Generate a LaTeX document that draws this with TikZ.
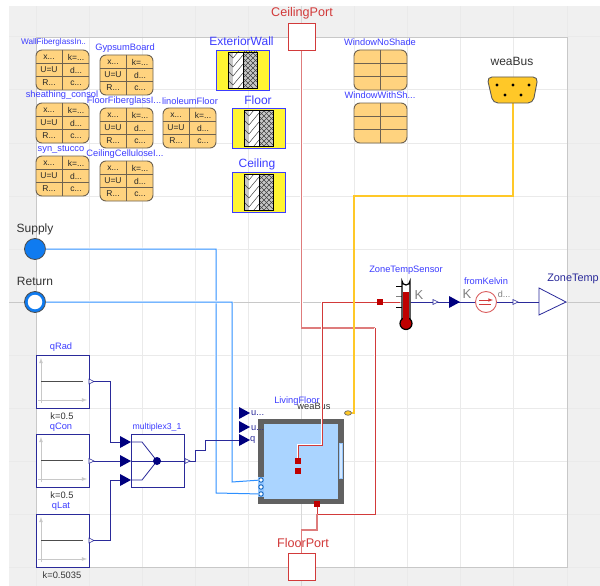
\documentclass[tikz,border=0pt]{standalone}
\usepackage{fontspec}
\setmainfont{Liberation Sans}
\usetikzlibrary{shapes.geometric}
\definecolor{canvasgray}{HTML}{F0F0F0}
\definecolor{gridgray}{HTML}{EAEAEA}
\definecolor{axisgray}{HTML}{C8C8C8}
\definecolor{labelblue}{HTML}{3C3CFF}
\definecolor{navyline}{HTML}{2A2A9A}
\definecolor{navyfill}{HTML}{00007F}
\definecolor{heatred}{HTML}{D23A3A}
\definecolor{paleheat}{HTML}{DE7C7C}
\definecolor{darkheat}{HTML}{BF0000}
\definecolor{fluidblue}{HTML}{2E90FF}
\definecolor{fluidfill}{HTML}{0F7BF0}
\definecolor{busyellow}{HTML}{FFC828}
\definecolor{matfill}{HTML}{FFD37F}
\definecolor{matline}{HTML}{6E6250}
\definecolor{roomblue}{HTML}{AAD4FF}
\tikzset{
	gridline/.style={gridgray,line width=1pt},
	namelabel/.style={labelblue,inner sep=0pt,font=\fontsize{9.3}{10}\selectfont},
	biglabel/.style={labelblue,inner sep=0pt,font=\fontsize{12}{13}\selectfont},
	portlabel/.style={heatred,inner sep=0pt,font=\fontsize{12.6}{13}\selectfont},
	darklabel/.style={black!80,inner sep=0pt,font=\fontsize{12}{13}\selectfont},
	paramlabel/.style={black!80,inner sep=0pt,font=\fontsize{9.3}{10}\selectfont},
	celltext/.style={black!85,inner sep=0pt,font=\fontsize{8.5}{9}\selectfont},
	graytext/.style={black!50,inner sep=0pt,font=\fontsize{13}{14}\selectfont},
	inlabel/.style={anchor=west,navyline,inner sep=0pt,font=\fontsize{9.3}{10}\selectfont},
	matbox/.style={draw=matline,fill=matfill,line width=0.9pt,rounded corners=6pt,minimum width=53pt,minimum height=40pt,inner sep=0pt},
	wallbox/.style={draw=labelblue,fill=yellow!80,line width=0.9pt,minimum width=53pt,minimum height=40pt,inner sep=0pt},
	blockbox/.style={draw=navyline,fill=white,line width=0.9pt,minimum width=53pt,minimum height=53pt,inner sep=0pt},
	portbox/.style={draw=heatred,fill=white,line width=0.9pt,minimum width=27pt,minimum height=27pt,inner sep=0pt},
	heatsq/.style={fill=darkheat,minimum size=6pt,inner sep=0pt},
	fluidport/.style={circle,draw=fluidfill!80!black,fill=white,line width=0.9pt,minimum size=4.5pt,inner sep=0pt},
	fluidbig/.style={circle,draw=black!70,fill=fluidfill,line width=0.8pt,minimum size=21pt,inner sep=0pt},
	halo/.style={preaction={draw,white,line width=2.6pt}},
	heatwire/.style={halo,heatred,line width=1pt},
	palewire/.style={halo,paleheat,line width=1.2pt},
	fluidwire/.style={halo,fluidblue,line width=1pt},
	buswire/.style={halo,busyellow,line width=1.2pt},
	sigwire/.style={navyline,line width=0.8pt}
}
% one material record
\newcommand{\matrec}[3]{
	\begin{scope}[shift={(#2,#3)}]
		\draw (26.5,20) node [matbox] (#1) {};
		\draw [matline,line width=0.9pt] (#1.north) -- (#1.south);
		\draw [matline,line width=0.9pt] (0,13.3) -- (53,13.3) (0,26.6) -- (53,26.6);
		\draw (13,7) node [celltext] (#1a) {x...};
		\draw (40,7) node [celltext] (#1b) {k=...};
		\draw (13,20) node [celltext] (#1c) {U=U};
		\draw (40,20) node [celltext] (#1d) {d...};
		\draw (13,33) node [celltext] (#1e) {R...};
		\draw (40,33) node [celltext] (#1f) {c...};
	\end{scope}
}
% one window record
\newcommand{\winrec}[3]{
	\begin{scope}[shift={(#2,#3)}]
		\draw (26.5,20) node [matbox] (#1) {};
		\draw [matline,line width=0.9pt] (#1.north) -- (#1.south);
		\draw [matline,line width=0.9pt] (0,13.3) -- (53,13.3) (0,26.6) -- (53,26.6);
	\end{scope}
}
% one wall section
\newcommand{\wallrec}[3]{
	\begin{scope}[shift={(#2,#3)}]
		\draw (26.5,20) node [wallbox] (#1) {};
		\fill [black!22] (12,2) rectangle (17,38);
		\fill [white] (17,2) rectangle (27,38);
		\fill [black!22] (27,2) rectangle (41,38);
		\begin{scope}
			\clip (12,2) rectangle (27,38);
			\foreach \y in {-6,3,...,39} {
				\draw [black!75,line width=0.5pt] (12,\y) -- (17,\y+5) -- (27,\y-7);
			}
		\end{scope}
		\begin{scope}
			\clip (27,2) rectangle (41,38);
			\foreach \y in {-12,-7,...,43} {
				\draw [black!75,line width=0.45pt] (27,\y) -- (41,\y+14);
				\draw [black!75,line width=0.45pt] (27,\y) -- (41,\y-14);
			}
		\end{scope}
		\draw [black,line width=0.9pt] (12,2) rectangle (41,38);
		\draw [black,line width=0.9pt] (27,2) -- (27,38);
	\end{scope}
}
% one constant source
\newcommand{\constrec}[3]{
	\begin{scope}[shift={(#2,#3)}]
		\draw (26.5,26.5) node [blockbox] (#1) {};
		\draw [axisgray,line width=0.8pt,-latex] (5,48) -- (5,3);
		\draw [axisgray,line width=0.8pt,-latex] (2,45) -- (51,45);
		\draw [black!70,line width=0.8pt] (5,26.5) -- (47,26.5);
	\end{scope}
}
\begin{document}
\begin{tikzpicture}[x=1pt,y=-1pt]
	\useasboundingbox (0,0) rectangle (600,586);
	% canvas and grid
	\fill [canvasgray] (9,6) rectangle (600,586);
	\fill [white] (36,37) rectangle (567,567);
	\foreach \x in {89,142,...,513} {
		\draw [gridline] (\x,6) -- (\x,586);
	}
	\foreach \y in {90,143,...,514} {
		\draw [gridline] (9,\y) -- (600,\y);
	}
	\draw [axisgray,line width=0.9pt] (9,302) -- (600,302);
	\draw [axisgray!70,line width=0.9pt] (301,6) -- (301,586);
	\draw [gridline] (36,6) -- (36,37) (36,567) -- (36,586) (9,37) -- (36,37) (9,567) -- (36,567);
	\draw [gridline] (567,6) -- (567,37) (567,567) -- (567,586) (567,37) -- (600,37) (567,567) -- (600,567);
	\draw [axisgray,line width=0.8pt] (36,37) rectangle (567,567);

	% records
	\matrec{WallFiberglass}{36}{50}
	\matrec{sheathing}{36}{103}
	\matrec{stucco}{36}{156}
	\matrec{Gypsum}{100}{55}
	\matrec{FloorFiberglass}{100}{108}
	\matrec{CeilingCellulose}{100}{161}
	\matrec{linoleum}{163}{108}
	\winrec{WinNoShade}{354}{50}
	\winrec{WinShade}{354}{103}
	\wallrec{ExtWall}{216}{50}
	\wallrec{FloorWall}{232}{108}
	\wallrec{CeilWall}{232}{172}
	\draw (53.5,42) node [namelabel,font=\fontsize{8.2}{9}\selectfont] (WallFiberglassL) {WallFiberglassIn..};
	\draw (62,95.5) node [namelabel] (sheathingL) {sheathing\_consol};
	\draw (61,149) node [namelabel] (stuccoL) {syn\_stucco};
	\draw (125,48) node [namelabel] (GypsumL) {GypsumBoard};
	\draw (124,101) node [namelabel] (FloorFiberglassL) {FloorFiberglassI...};
	\draw (125,154) node [namelabel] (CeilingCelluloseL) {CeilingCelluloseI...};
	\draw (190,101) node [namelabel] (linoleumL) {linoleumFloor};
	\draw (380,42) node [namelabel] (WinNoShadeL) {WindowNoShade};
	\draw (380,95) node [namelabel] (WinShadeL) {WindowWithSh...};
	\draw (241.5,41) node [biglabel] (ExtWallL) {ExteriorWall};
	\draw (258,100) node [biglabel] (FloorWallL) {Floor};
	\draw (257,164) node [biglabel] (CeilWallL) {Ceiling};
	\draw (512,61) node [darklabel] (weaBusL) {weaBus};
	\draw (35,229) node [darklabel] (SupplyL) {Supply};
	\draw (35,281) node [darklabel] (ReturnL) {Return};
	\draw (302,13) node [portlabel] (CeilingPortL) {CeilingPort};
	\draw (297,401) node [namelabel] (LivingFloorL) {LivingFloor};
	\draw (314,406) node [paramlabel] (roomBusL) {weaBus};
	\draw (406,270) node [namelabel] (SensorL) {ZoneTempSensor};
	\draw (486,281) node [namelabel] (fromKelvinL) {fromKelvin};
	\draw (573,279) node [navyline,inner sep=0pt,font=\fontsize{10.9}{11}\selectfont] (ZoneTempL) {ZoneTemp};
	\draw (61,347) node [namelabel] (qRadL) {qRad};
	\draw (61,427) node [namelabel] (qConL) {qCon};
	\draw (61,506) node [namelabel] (qLatL) {qLat};
	\draw (157,427) node [namelabel,font=\fontsize{8.7}{9}\selectfont] (multiplexL) {multiplex3\_1};
	\draw (62,416) node [paramlabel] (kRad) {k=0.5};
	\draw (62,495) node [paramlabel] (kCon) {k=0.5};
	\draw (62,575) node [paramlabel] (kLat) {k=0.5035};

	% room
	\draw (301,461.5) node [draw=black!62,fill=roomblue,line width=5.5pt,minimum width=80pt,minimum height=80pt,inner sep=0pt] (LivingFloor) {};
	\fill [fluidblue!50] (339,443) rectangle (343,479);
	\fill [white!80!fluidblue] (340,444) rectangle (342,478);
	\fill [fluidblue!50] (258,477) rectangle (264,497);

	% ports
	\draw (301.5,37) node [portbox] (CeilingPort) {};
	\draw (301.5,567) node [portbox] (FloorPort) {};
	\draw (317,504) node [heatsq] (floorConn) {};
	\draw (298,461) node [heatsq] (airConn) {};
	\draw (298,471) node [heatsq] (radConn) {};
	\draw (380,302) node [heatsq] (sensorConn) {};
	\draw (261,480) node [fluidport] (portA) {};
	\draw (261,487) node [fluidport] (portB) {};
	\draw (261,494) node [fluidport] (portC) {};
	\draw (348,413) node [ellipse,draw=black!60,fill=busyellow,line width=0.7pt,minimum width=7pt,minimum height=4.5pt,inner sep=0pt] (roomBus) {};
	\draw (35,249) node [fluidbig] (Supply) {};
	\draw (35,302) node [fluidbig] (Return) {};
	\draw (35,302) node [circle,fill=white,minimum size=14.5pt,inner sep=0pt] (ReturnEye) {};

	% thermal connections
	\draw [palewire] (CeilingPort) -- (301.5,328) -- (375,328);
	\draw [heatwire] (375,328) -- (375,514) -- (317,514) -- (floorConn);
	\draw [palewire] (FloorPort) -- (301.5,530) -- (317,530) -- (317,514);
	\draw [heatwire] (400,302) -- (sensorConn) -- (322,302) -- (322,445) -- (298,445) -- (airConn);

	% weather and fluid connections
	\coordinate (busDown) at (513,103);
	\draw [buswire] (busDown) -- (513,196) -- (354,196) -- (354,413) -- (roomBus);
	\draw [fluidwire] (Supply) -- (216,249) -- (216,493) -- (portC);
	\draw [fluidwire] (Return) -- (232,302) -- (232,482) -- (portA);

	% port label sits on the wire
	\draw (303,543) node [portlabel] (FloorPortL) {FloorPort};

	% weather connector
	\filldraw [draw=black!65,fill=busyellow,line width=0.9pt,rounded corners=5pt] (487,77) -- (538,77) -- (533,103) -- (493,103) -- cycle;
	\foreach \x/\y in {497/85,513/85,529/85,505/95,521/95} {
		\fill [black] (\x,\y) circle (1.6);
	}

	% sources
	\constrec{qRad}{36}{355}
	\constrec{qCon}{36}{434}
	\constrec{qLat}{36}{514}
	\draw (157.5,460.5) node [blockbox] (multiplex) {};
	\draw [sigwire] (131,442) -- (142,442) -- (157,461);
	\draw [sigwire] (131,480) -- (142,480) -- (157,461);
	\draw [sigwire] (131,461) -- (185,461);
	\fill [navyfill] (157,461) circle (4);

	% inputs and outputs
	\foreach \n/\x/\y in {inA/120/442,inB/120/461,inC/120/480,uA/239/413,uB/239/427,qIn/239/440,kelvinIn/449/302} {
		\coordinate (\n) at (\x,\y);
	}
	\draw [sigwire] (qRad.east |- 0,381.5) -- (110,381.5) -- (110,442) -- (inA);
	\draw [sigwire] (qCon.east |- 0,461) -- (inB);
	\draw [sigwire] (qLat.east |- 0,540.5) -- (110,540.5) -- (110,480) -- (inC);
	\draw [sigwire] (multiplex.east |- 0,461) -- (195,461) -- (195,450.5) -- (205,450.5) -- (205,440) -- (qIn);
	\draw [sigwire] (411,302) -- (kelvinIn);
	\draw [sigwire] (kelvinIn) -- (476,302);
	\draw [sigwire] (486,302) -- (539,302);
	\foreach \n in {inA,inB,inC,uA,uB,qIn,kelvinIn} {
		\fill [navyfill] (\n) ++(0,-6) -- ++(11,6) -- ++(-11,6) -- cycle;
	}
	\foreach \n/\x/\y in {tipA/89/381.5,tipB/89/461,tipC/89/540.5,tipD/185/461,tipE/433/302,tipF/513/302} {
		\coordinate (\n) at (\x,\y);
		\filldraw [draw=navyline,fill=white,line width=0.6pt] (\n) ++(0,-2.5) -- ++(5,2.5) -- ++(-5,2.5) -- cycle;
	}
	\draw (251,413) node [inlabel] (uAL) {u...};
	\draw (251,428) node [inlabel] (uBL) {u...};
	\draw (250,440) node [inlabel] (qInL) {q};

	% sensor
	\draw [black,line width=0.8pt] (396,286) -- (402,286) (396,307) -- (402,307);
	\draw [black!50,line width=0.8pt] (396,296.5) -- (402,296.5);
	\filldraw [draw=black,fill=white,line width=1.2pt] (402,320) -- (402,281) arc (180:0:4) -- (410,320);
	\fill [darkheat] (402.6,292) rectangle (409.4,318);
	\filldraw [draw=black,fill=darkheat,line width=1.2pt] (406,323.5) circle (6);
	\fill [darkheat] (402.6,312) rectangle (409.4,322);
	\draw (419,295) node [graytext] (sensorK) {K};
	\draw (467,294) node [graytext] (kelvinK) {K};
	\draw (486,302) node [circle,draw=heatred!80,fill=white,line width=0.9pt,minimum size=21pt,inner sep=0pt] (fromKelvin) {};
	\draw [heatred,line width=0.6pt,-latex] (479,300) -- (493,300);
	\draw [heatred,line width=0.6pt] (479,304) -- (491,304);
	\draw (504,294) node [black!50,inner sep=0pt,font=\fontsize{9}{10}\selectfont] (kelvinD) {d...};
	\filldraw [draw=navyline,fill=white,line width=0.8pt] (539,288) -- (566,302) -- (539,315) -- cycle;
\end{tikzpicture}
\end{document}
